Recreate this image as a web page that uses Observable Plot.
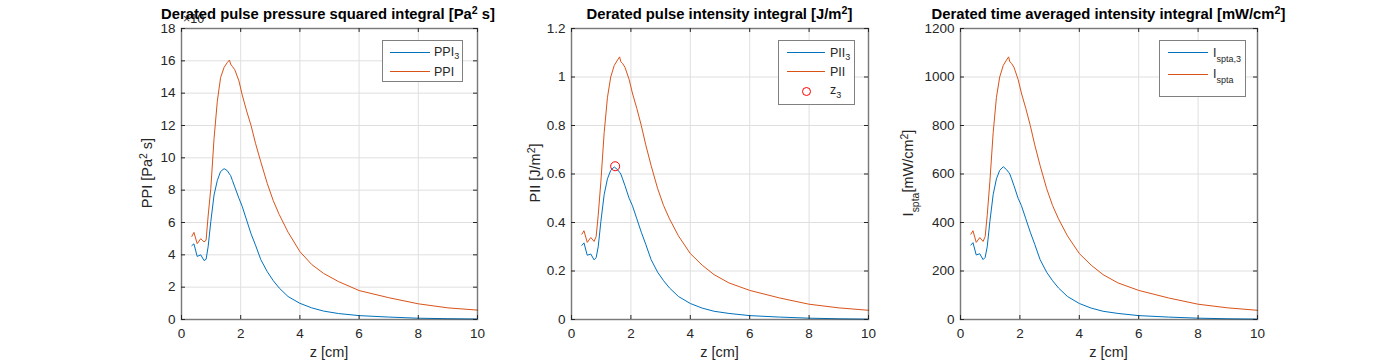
<!DOCTYPE html>
<html><head><meta charset="utf-8">
<script src="https://cdn.jsdelivr.net/npm/d3@7"></script>
<script src="https://cdn.jsdelivr.net/npm/@observablehq/plot@0.6"></script>
<style>
body{margin:0;background:#fff;}
#wrap{position:relative;width:1390px;height:363px;overflow:hidden;font-family:"Liberation Sans",Arial,sans-serif;color:#262626;}
#wrap svg{position:absolute;left:0;top:0;}
.t{position:absolute;white-space:nowrap;line-height:1;}
.sub{position:relative;top:0.35em;font-size:0.72em;}
.sup{position:relative;top:-0.5em;font-size:0.72em;}
.lsub{position:relative;top:0.55em;font-size:0.72em;}
.box{position:absolute;border:1.5px solid #808080;background:#fff;box-sizing:border-box;}
.ln{position:absolute;height:1px;}
</style></head>
<body><div id="wrap"></div>
<script>
// ---- data ----
const z      = [0.35,0.42,0.53,0.65,0.76,0.83,0.9,0.99,1.1,1.21,1.32,1.44,1.55,1.62,1.66,1.72,1.8,1.94,2.05,2.2,2.35,2.5,2.68,2.9,3.1,3.3,3.6,4.0,4.4,4.8,5.3,6.0,7.0,8.0,9.0,10.0];
const ppi3   = [4.57,4.68,3.9,4.0,3.65,3.72,4.5,6.06,7.7,8.6,9.15,9.33,9.2,9.0,8.9,8.6,8.2,7.5,7.0,6.15,5.3,4.6,3.7,2.95,2.4,1.95,1.42,1.0,0.72,0.52,0.37,0.24,0.15,0.08,0.05,0.03];
const ppi    = [5.14,5.39,4.69,5.0,4.8,4.9,6.4,8.1,11.2,13.5,14.96,15.6,15.9,16.05,15.8,15.65,15.45,14.76,13.9,12.9,12.0,10.9,9.75,8.4,7.35,6.5,5.4,4.2,3.4,2.85,2.35,1.79,1.35,0.97,0.72,0.58];
const pii3   = [0.306,0.316,0.265,0.27,0.246,0.255,0.30,0.405,0.515,0.58,0.615,0.629,0.618,0.607,0.60,0.58,0.552,0.50,0.47,0.415,0.36,0.31,0.247,0.195,0.16,0.13,0.095,0.066,0.047,0.034,0.025,0.016,0.01,0.0055,0.003,0.0015];
const pii    = [0.352,0.366,0.318,0.338,0.322,0.342,0.43,0.57,0.77,0.915,1.0,1.048,1.07,1.083,1.063,1.056,1.04,0.99,0.934,0.87,0.80,0.72,0.635,0.54,0.47,0.415,0.345,0.272,0.224,0.185,0.151,0.12,0.089,0.063,0.048,0.038];
const ispta3 = [307,317,266,271,247,256,300,405,515,580,615,630,618,607,600,580,552,500,470,415,360,310,247,195,160,130,95,66,47,34,25,16,10,5.5,3,1.5];
const ispta  = [352,366,318,338,322,342,430,570,770,916,1000,1048,1070,1083,1063,1056,1040,990,934,870,800,720,635,540,470,415,345,272,224,185,151,120,89,63,48,38];
const z3Pos  = [1.47];
const z3Val  = [0.632];
const xTicks      = [0,2,4,6,8,10];
const ppiTicks    = [0,2,4,6,8,10,12,14,16,18];
const piiTicks    = [0,0.2,0.4,0.6,0.8,1,1.2];
const isptaTicks  = [0,200,400,600,800,1000,1200];

const BLUE = "#0072BD", ORANGE = "#D95319";
const TOP = 28, BOTTOM = 319;
const wrap = document.getElementById("wrap");

function panel(L, R, yDomain, yTicks, series, fmt, extra = []) {
  const W = R - L, H = BOTTOM - TOP, ax = "#262626";
  return Plot.plot({
    width: 1390, height: 363,
    marginLeft: L, marginRight: 1390 - R, marginTop: TOP, marginBottom: 363 - BOTTOM,
    style: {background: "none", fontFamily: "Liberation Sans, Arial, sans-serif", fontSize: "13.5px", color: "#262626", overflow: "visible"},
    x: {domain: [0, 10]},
    y: {domain: yDomain},
    marks: [
      Plot.gridX(xTicks, {stroke: "#dfdfdf", strokeOpacity: 1}),
      Plot.gridY(yTicks, {stroke: "#dfdfdf", strokeOpacity: 1}),
      ...series.map(s => Plot.line(s.values.map((v, i) => ({z: z[i], v})), {x: "z", y: "v", stroke: s.color, strokeWidth: 1})),
      ...extra,
      Plot.ruleX(xTicks, {insetTop: H - 4, stroke: ax}),
      Plot.ruleX(xTicks, {insetBottom: H - 4, stroke: ax}),
      Plot.ruleY(yTicks, {insetRight: W - 4, stroke: ax}),
      Plot.ruleY(yTicks, {insetLeft: W - 4, stroke: ax}),
      Plot.frame({stroke: ax, strokeOpacity: 0.55, strokeWidth: 1.5}),
      Plot.axisX(xTicks, {tickSize: 0, tickPadding: 9, label: null, fill: "#262626"}),
      Plot.axisY(yTicks, {tickSize: 0, tickPadding: 6, label: null, tickFormat: fmt, fill: "#262626"})
    ]
  });
}

wrap.appendChild(panel(181, 477, [0, 18], ppiTicks,
  [{values: ppi3, color: BLUE}, {values: ppi, color: ORANGE}], d => String(d)));
wrap.appendChild(panel(571, 868, [0, 1.2], piiTicks,
  [{values: pii3, color: BLUE}, {values: pii, color: ORANGE}], d => String(+d.toFixed(1)),
  [Plot.dot(z3Pos.map((zz, i) => ({z: zz, v: z3Val[i]})), {x: "z", y: "v", r: 4.5, stroke: "red", fill: "none", strokeWidth: 1})]));
wrap.appendChild(panel(960, 1257, [0, 1200], isptaTicks,
  [{values: ispta3, color: BLUE}, {values: ispta, color: ORANGE}], d => String(d)));

// ---- text helpers ----
function text(html, x, baseline, fs, opts = {}) {
  const d = document.createElement("div");
  d.className = "t";
  d.innerHTML = html;
  d.style.fontSize = fs + "px";
  d.style.top = (baseline - 0.8465 * fs) + "px";
  d.style.left = x + "px";
  if (opts.bold) d.style.fontWeight = "bold";
  if (opts.color) d.style.color = opts.color;
  if (opts.center) d.style.transform = "translateX(-50%)";
  wrap.appendChild(d);
  return d;
}
function vtext(html, baselineX, cy, fs) {
  const d = document.createElement("div");
  d.className = "t";
  d.innerHTML = html;
  d.style.fontSize = fs + "px";
  d.style.left = (baselineX - 0.3465 * fs) + "px";
  d.style.top = cy + "px";
  d.style.transform = "translate(-50%,-50%) rotate(-90deg)";
  wrap.appendChild(d);
}
function box(x, y, w, h) {
  const d = document.createElement("div");
  d.className = "box";
  Object.assign(d.style, {left: x + "px", top: y + "px", width: w + "px", height: h + "px"});
  wrap.appendChild(d);
}
function line(x1, x2, y, color) {
  const d = document.createElement("div");
  d.className = "ln";
  Object.assign(d.style, {left: x1 + "px", top: (y - 0.5) + "px", width: (x2 - x1) + "px", background: color});
  wrap.appendChild(d);
}

// exponent label (mostly hidden under the title)
text("&times;10", 183, 24, 12.5, {color: "#262626"});

// titles
text('Derated pulse pressure squared integral [Pa<span class="sup">2</span> s]', 328, 20, 14.8, {bold: true, center: true, color: "#000"});
text('Derated pulse intensity integral [J/m<span class="sup">2</span>]', 719.5, 20, 14.8, {bold: true, center: true, color: "#000"});
text('Derated time averaged intensity integral [mW/cm<span class="sup">2</span>]', 1108.5, 20, 14.8, {bold: true, center: true, color: "#000"});

// x labels
text("z [cm]", 329, 357, 14.5, {center: true});
text("z [cm]", 719.5, 357, 14.5, {center: true});
text("z [cm]", 1108.5, 357, 14.5, {center: true});

// y labels
vtext('PPI [Pa<span class="sup">2</span> s]', 152, 173, 14.5);
vtext('PII [J/m<span class="sup">2</span>]', 540, 173, 14.5);
vtext('I<span class="lsub">spta</span>[mW/cm<span class="sup">2</span>]', 913, 173, 14.5);

// legends
box(382, 40, 81, 42);
line(390, 430, 52.3, BLUE); line(390, 430, 71.7, ORANGE);
text('PPI<span class="sub">3</span>', 434, 56.8, 12.5);
text('PPI', 434, 76.2, 12.5);

box(778, 40, 77, 65);
line(787, 825, 52.7, BLUE); line(787, 825, 71.7, ORANGE);
(() => { const c = document.createElement("div");
  Object.assign(c.style, {position: "absolute", left: "802px", top: "87px", width: "9px", height: "9px", border: "1px solid red", borderRadius: "50%", boxSizing: "border-box"});
  wrap.appendChild(c); })();
text('PII<span class="sub">3</span>', 830, 57.2, 12.5);
text('PII', 830, 76.2, 12.5);
text('z<span class="sub">3</span>', 830, 95, 12.5);

box(1159, 40, 87, 57);
line(1168, 1208, 52.7, BLUE); line(1168, 1208, 74.3, ORANGE);
text('I<span class="lsub">spta,3</span>', 1213, 57.2, 12.5);
text('I<span class="lsub">spta</span>', 1213, 78.8, 12.5);
</script>
</body></html>
